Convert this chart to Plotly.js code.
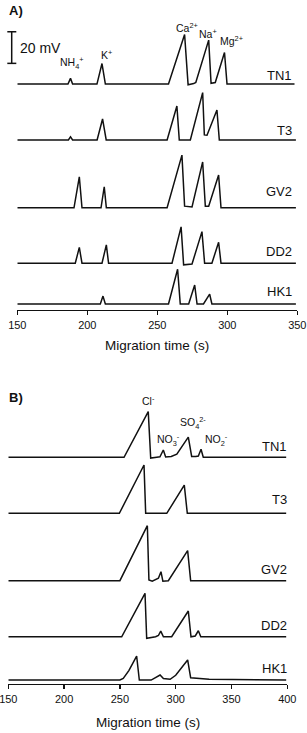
<!DOCTYPE html>
<html>
<head>
<meta charset="utf-8">
<script src="https://cdn.plot.ly/plotly-3.0.1.min.js"></script>
<style>html,body{margin:0;padding:0;background:#fff;}#chart{width:307px;height:733px;}</style>
</head>
<body>
<div id="chart"></div>
<script>
// ---- Data ----
const samples = ['TN1', 'T3', 'GV2', 'DD2', 'HK1'];
// vertical stacking offsets of each electropherogram (mV)
const offsetsA = [143, 107.6, 64.7, 29.6, 3.8];
const offsetsB = [143.5, 108, 65.4, 29.9, 2.5];
const scaleBarMV = 20;

// Panel A: cations — migration time (s) and signal (mV above baseline)
const tA_TN1 = [150, 186.2, 188, 189.5, 206.9, 210.5, 212.9, 258, 269.5, 272, 276, 277.5, 286.7, 288.4, 291.4, 298, 299.8, 348];
const sA_TN1 = [0, 0, 3.6, 0, 0, 13, 0, 0, 31.4, -0.5, 0.3, 1, 27.8, 0.5, 1, 20, 0, 0];
const tA_T3  = [150, 186.5, 188, 189.5, 207, 210.9, 213.5, 257, 264, 265.7, 273.6, 282.4, 283.6, 285.5, 292.6, 294.3, 349];
const sA_T3  = [0, 0, 2, 0, 0, 13.3, 0, 0, 21.5, 0, 0, 30, 3.2, 3, 19, 0, 0];
const tA_GV2 = [150, 190.5, 194.3, 196.2, 209.8, 212.1, 213.6, 257, 267.6, 269.5, 274.8, 282.4, 284.3, 286.7, 293.8, 295.5, 349];
const sA_GV2 = [0, 0, 19.6, 0, 0, 13.3, 0, 0, 33.3, 1, 0.5, 29, 1, 1, 20.7, 0, 0];
const tA_DD2 = [150, 191.4, 194.3, 196.2, 210.5, 213.6, 215.2, 260.5, 267, 268.8, 274.8, 281.9, 283.8, 289, 293.8, 295.5, 349];
const sA_DD2 = [0, 0, 10, 0, 0, 11.6, 0, 0, 23, -1, -0.5, 20, 0, 0, 13.3, 0, 0];
const tA_HK1 = [150, 209.3, 211.2, 212.9, 258, 264.5, 266.4, 272.4, 276.7, 278.4, 283, 287.4, 289, 349];
const sA_HK1 = [0, 0, 5, 0, 0, 22, 0, 0, 12, 0, 0, 6.3, 0, 0];

// Panel B: anions
const tB_TN1 = [150, 253.7, 275.4, 277.6, 283, 285.9, 288.9, 291, 296, 301, 311.3, 314.3, 318, 320.3, 322.7, 324.7, 399];
const sB_TN1 = [0, 0, 28.9, -0.5, 0, 0.3, 4.6, 0.2, 0.5, 2, 12.7, 0.5, 0.5, 0.8, 5.1, 0, 0];
const tB_T3  = [150, 249.5, 271.6, 273.1, 292, 307.7, 310.4, 399];
const sB_T3  = [0, 0, 30.6, 0, 0, 17.9, 0, 0];
const tB_GV2 = [150, 250, 274.6, 276, 279, 282.5, 284.5, 286.8, 288.5, 293.4, 310.7, 313.4, 399];
const sB_GV2 = [0, 0, 34.8, 0.5, -0.3, 0.8, 1.5, 5.7, -0.3, 0, 19, 0, 0];
const tB_DD2 = [150, 251.6, 272.5, 274, 282, 284.5, 286.6, 289, 296.4, 311.3, 313.7, 317.5, 320.3, 322.5, 399];
const sB_DD2 = [0, 0, 27.5, -1, 0, 0.8, 3.6, 0, 0, 16.3, 0, 0.5, 3.8, 0, 0];
const tB_HK1 = [150, 250, 253, 258, 265, 267.4, 278, 282, 286, 289, 295, 300, 310.7, 313.4, 320, 330, 399];
const sB_HK1 = [0, 0, 1, 6, 15.2, 0, 0, 1.5, 3.2, 1, 0.5, 3, 12.7, 1.5, 1, 0.5, 0];

const tickValsA = [150, 200, 250, 300, 350];
const tickValsB = [150, 200, 250, 300, 350, 400];
const xTitle = 'Migration time (s)';

// Peak labels
const ionsA = ['NH<sub>4</sub><sup>+</sup>', 'K<sup>+</sup>', 'Ca<sup>2+</sup>', 'Na<sup>+</sup>', 'Mg<sup>2+</sup>'];
const ionsAt = [188.9, 213.4, 271.2, 286.4, 303.1];
const ionsAy = [156.3, 162, 178.5, 175, 170.4];
const ionsB = ['Cl<sup>-</sup>', 'NO<sub>3</sub><sup>-</sup>', 'SO<sub>4</sub><sup>2-</sup>', 'NO<sub>2</sub><sup>-</sup>'];
const ionsBt = [275.2, 293.1, 315.2, 336.7];
const ionsBy = [179.7, 154.4, 165.2, 154.4];
const labelYA = [148.1, 113.9, 74.9, 36.9, 12];
const labelYB = [150.2, 116.5, 72.2, 37.3, 9.9];

// ---- Build ----
const FONT = 'Liberation Sans, Arial, sans-serif';
const tA = [tA_TN1, tA_T3, tA_GV2, tA_DD2, tA_HK1];
const sA = [sA_TN1, sA_T3, sA_GV2, sA_DD2, sA_HK1];
const tB = [tB_TN1, tB_T3, tB_GV2, tB_DD2, tB_HK1];
const sB = [sB_TN1, sB_T3, sB_GV2, sB_DD2, sB_HK1];

const traces = [];
samples.forEach((name, i) => {
  traces.push({x: tA[i], y: sA[i].map(v => v + offsetsA[i]), xaxis: 'x', yaxis: 'y',
    mode: 'lines', line: {color: '#111', width: 1.5}, name: name, showlegend: false, hoverinfo: 'skip'});
  traces.push({x: tB[i], y: sB[i].map(v => v + offsetsB[i]), xaxis: 'x2', yaxis: 'y2',
    mode: 'lines', line: {color: '#111', width: 1.5}, name: name, showlegend: false, hoverinfo: 'skip'});
});

const W = 307, H = 733;
const pyA0 = 310, pyA1 = 20, pyB0 = 684, pyB1 = 390, pxPerMV = 1.58;

const annotations = [];
ionsA.forEach((t, i) => annotations.push({x: ionsAt[i], y: ionsAy[i], xref: 'x', yref: 'y', text: t,
  showarrow: false, font: {family: FONT, size: 10.5, color: '#111'}, xanchor: 'center', yanchor: 'middle'}));
ionsB.forEach((t, i) => annotations.push({x: ionsBt[i], y: ionsBy[i], xref: 'x2', yref: 'y2', text: t,
  showarrow: false, font: {family: FONT, size: 10.5, color: '#111'}, xanchor: 'center', yanchor: 'middle'}));
samples.forEach((name, i) => {
  annotations.push({x: 294 / W, y: labelYA[i], xref: 'paper', yref: 'y', text: name, showarrow: false,
    font: {family: FONT, size: 13, color: '#111'}, xanchor: 'right', yanchor: 'middle'});
  annotations.push({x: 288.5 / W, y: labelYB[i], xref: 'paper', yref: 'y2', text: name, showarrow: false,
    font: {family: FONT, size: 13, color: '#111'}, xanchor: 'right', yanchor: 'middle'});
});
annotations.push({x: 157.3 / W, y: 1 - 345.7 / H, xref: 'paper', yref: 'paper', text: xTitle, showarrow: false,
  font: {family: FONT, size: 13.5, color: '#111'}, xanchor: 'center', yanchor: 'middle'});
annotations.push({x: 147.8 / W, y: 1 - 722 / H, xref: 'paper', yref: 'paper', text: xTitle, showarrow: false,
  font: {family: FONT, size: 13.5, color: '#111'}, xanchor: 'center', yanchor: 'middle'});
annotations.push({x: 7 / W, y: 1 - 11 / H, xref: 'paper', yref: 'paper', text: '<b>A)</b>', showarrow: false,
  font: {family: FONT, size: 13, color: '#111'}, xanchor: 'left', yanchor: 'middle'});
annotations.push({x: 7 / W, y: 1 - 397 / H, xref: 'paper', yref: 'paper', text: '<b>B)</b>', showarrow: false,
  font: {family: FONT, size: 13, color: '#111'}, xanchor: 'left', yanchor: 'middle'});
const sbBottom = 156.1, sbTop = sbBottom + scaleBarMV;
annotations.push({x: 17.5 / W, y: (sbBottom + sbTop) / 2, xref: 'paper', yref: 'y', text: scaleBarMV + ' mV', showarrow: false,
  font: {family: FONT, size: 14, color: '#111'}, xanchor: 'left', yanchor: 'middle'});

const shapes = [
  {type: 'line', xref: 'paper', yref: 'y', x0: 11.7 / W, x1: 11.7 / W, y0: sbBottom, y1: sbTop, line: {color: '#111', width: 1.5}},
  {type: 'line', xref: 'paper', yref: 'y', x0: 7.3 / W, x1: 16.3 / W, y0: sbBottom, y1: sbBottom, line: {color: '#111', width: 1.5}},
  {type: 'line', xref: 'paper', yref: 'y', x0: 7.3 / W, x1: 16.3 / W, y0: sbTop, y1: sbTop, line: {color: '#111', width: 1.5}}
];

const xaxisCommon = {showgrid: false, zeroline: false, showline: true, linecolor: '#111', linewidth: 1.3,
  ticks: 'outside', ticklen: 4, tickwidth: 1.3, tickcolor: '#111', tickmode: 'array',
  ticklabeloverflow: 'allow', tickfont: {family: FONT, size: 11, color: '#111'}, fixedrange: true};

const layout = {
  width: W, height: H, margin: {l: 0, r: 0, t: 0, b: 0}, paper_bgcolor: '#fff', plot_bgcolor: '#fff',
  showlegend: false,
  xaxis: Object.assign({}, xaxisCommon, {domain: [17.3 / W, 297.3 / W], range: [150, 350], tickvals: tickValsA, anchor: 'y'}),
  yaxis: {domain: [1 - pyA0 / H, 1 - pyA1 / H], range: [0, (pyA0 - pyA1) / pxPerMV], visible: false, fixedrange: true, anchor: 'x'},
  xaxis2: Object.assign({}, xaxisCommon, {domain: [8.3 / W, 287.3 / W], range: [150, 400], tickvals: tickValsB, anchor: 'y2'}),
  yaxis2: {domain: [1 - pyB0 / H, 1 - pyB1 / H], range: [0, (pyB0 - pyB1) / pxPerMV], visible: false, fixedrange: true, anchor: 'x2'},
  annotations: annotations,
  shapes: shapes
};

Plotly.newPlot('chart', traces, layout, {staticPlot: true, displayModeBar: false});
</script>
</body>
</html>
